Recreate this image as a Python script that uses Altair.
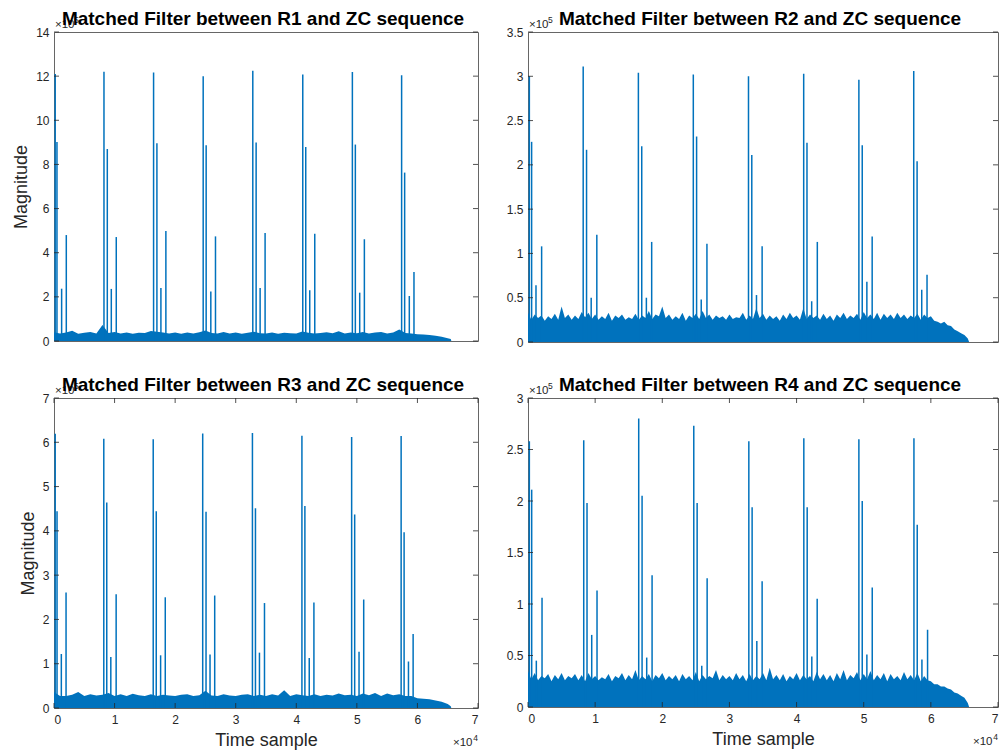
import altair as alt
import pandas as pd

BLUE = "#0072BD"
FONT = "Liberation Sans"
TXT = "#262626"

# ---------------- data (in axis units) ----------------
titles = ["Matched Filter between R1 and ZC sequence",
          "Matched Filter between R2 and ZC sequence",
          "Matched Filter between R3 and ZC sequence",
          "Matched Filter between R4 and ZC sequence"]

x_ticks = [0, 10000, 20000, 30000, 40000, 50000, 60000, 70000]
y_ticks_1 = [0, 2, 4, 6, 8, 10, 12, 14]
y_ticks_2 = [0, 0.5, 1, 1.5, 2, 2.5, 3, 3.5]
y_ticks_3 = [0, 1, 2, 3, 4, 5, 6, 7]
y_ticks_4 = [0, 0.5, 1, 1.5, 2, 2.5, 3]

coarse_samples = list(range(0, 60000, 1000))
coarse_tail = [60000, 61000, 62000, 63000, 64000, 65000, 65500, 65600]
fine_samples = list(range(0, 60000, 500))
fine_tail = [60000, 60500, 61000, 61500, 62000, 62500, 63000, 63500, 64000, 64500, 65000,
             65500, 65700]

floor_1 = [0.40, 0.34, 0.38, 0.46, 0.33, 0.37, 0.41, 0.34, 0.72, 0.36, 0.41, 0.34, 0.39, 0.33, 0.37,
           0.36, 0.45, 0.42, 0.38, 0.34, 0.39, 0.33, 0.38, 0.34, 0.40, 0.48, 0.36, 0.34, 0.41, 0.34,
           0.38, 0.33, 0.37, 0.42, 0.35, 0.34, 0.39, 0.33, 0.37, 0.35, 0.34, 0.43, 0.37, 0.34, 0.36,
           0.40, 0.35, 0.44, 0.34, 0.39, 0.35, 0.41, 0.34, 0.38, 0.41, 0.34, 0.39, 0.52, 0.36, 0.34]
tail_1 = [0.31, 0.29, 0.27, 0.24, 0.19, 0.13, 0.09, 0.0]

floor_2 = [0.33, 0.25, 0.31, 0.27, 0.30, 0.24, 0.29, 0.26, 0.32, 0.25, 0.40, 0.27, 0.31, 0.25, 0.30,
           0.26, 0.34, 0.28, 0.33, 0.26,
           0.31, 0.25, 0.29, 0.26, 0.33, 0.24, 0.30, 0.27, 0.31, 0.25, 0.28, 0.26, 0.32, 0.25, 0.30,
           0.27, 0.35, 0.26, 0.31, 0.29,
           0.40, 0.27, 0.31, 0.25, 0.29, 0.26, 0.33, 0.24, 0.30, 0.27, 0.32, 0.26, 0.35, 0.27, 0.31,
           0.25, 0.30, 0.27, 0.29, 0.25,
           0.31, 0.26, 0.28, 0.27, 0.33, 0.25, 0.30, 0.26, 0.38, 0.27, 0.32, 0.25, 0.30, 0.26, 0.29,
           0.24, 0.31, 0.26, 0.33, 0.27,
           0.30, 0.25, 0.38, 0.26, 0.31, 0.27, 0.30, 0.25, 0.32, 0.26, 0.30, 0.24, 0.31, 0.27, 0.33,
           0.26, 0.30, 0.27, 0.32, 0.25,
           0.34, 0.27, 0.31, 0.26, 0.33, 0.25, 0.32, 0.27, 0.31, 0.26, 0.33, 0.27, 0.31, 0.26, 0.30,
           0.27, 0.32, 0.25, 0.31, 0.27]
tail_2 = [0.29, 0.24, 0.23, 0.21, 0.23, 0.19, 0.18, 0.14, 0.12, 0.10, 0.08, 0.04, 0.0]

floor_3 = [0.36, 0.27, 0.27, 0.30, 0.36, 0.27, 0.31, 0.28, 0.30, 0.34, 0.27, 0.31, 0.27, 0.32, 0.29,
           0.27, 0.31, 0.27, 0.30, 0.28, 0.27, 0.30, 0.31, 0.27, 0.29, 0.39, 0.28, 0.27, 0.31, 0.28,
           0.27, 0.30, 0.31, 0.27, 0.30, 0.27, 0.31, 0.28, 0.40, 0.27, 0.31, 0.29, 0.27, 0.31, 0.27,
           0.30, 0.28, 0.33, 0.29, 0.30, 0.27, 0.33, 0.29, 0.34, 0.27, 0.33, 0.29, 0.31, 0.27, 0.27]
tail_3 = [0.22, 0.21, 0.20, 0.17, 0.14, 0.09, 0.04, 0.0]

floor_4 = [0.35, 0.27, 0.33, 0.26, 0.30, 0.28, 0.32, 0.25, 0.31, 0.27, 0.33, 0.26, 0.30, 0.28, 0.32,
           0.26, 0.31, 0.25, 0.33, 0.27,
           0.30, 0.26, 0.29, 0.27, 0.32, 0.25, 0.30, 0.28, 0.33, 0.26, 0.31, 0.27, 0.36, 0.26, 0.30,
           0.27, 0.32, 0.25, 0.31, 0.28,
           0.33, 0.26, 0.30, 0.27, 0.31, 0.25, 0.32, 0.27, 0.30, 0.26, 0.34, 0.25, 0.31, 0.27, 0.30,
           0.28, 0.36, 0.26, 0.31, 0.27,
           0.30, 0.26, 0.33, 0.27, 0.31, 0.25, 0.32, 0.26, 0.30, 0.27, 0.33, 0.26, 0.38, 0.27, 0.31,
           0.26, 0.32, 0.25, 0.30, 0.27,
           0.33, 0.26, 0.31, 0.27, 0.30, 0.25, 0.34, 0.27, 0.32, 0.26, 0.31, 0.25, 0.33, 0.27, 0.36,
           0.26, 0.31, 0.28, 0.34, 0.26,
           0.32, 0.27, 0.35, 0.26, 0.31, 0.27, 0.33, 0.25, 0.32, 0.27, 0.30, 0.26, 0.34, 0.27, 0.31,
           0.26, 0.33, 0.25, 0.30, 0.26]
tail_4 = [0.25, 0.22, 0.22, 0.20, 0.20, 0.18, 0.17, 0.14, 0.13, 0.11, 0.09, 0.04, 0.0]

peak_pos_1 = [200, 490, 1260, 2030, 8250, 8800, 9460, 10280, 16440, 16990, 17650, 18470,
              24630, 25120, 25890, 26660, 32820, 33370, 34030, 34850, 41070, 41560, 42220, 43050,
              49260, 49750, 50470, 51240, 57390, 57890, 58660, 59430]
peak_val_1 = [12.1, 9.02, 2.37, 4.80, 12.2, 8.70, 2.36, 4.71, 12.16, 8.96, 2.40, 4.98,
              12.0, 8.87, 2.24, 4.74, 12.24, 8.99, 2.40, 4.89, 12.07, 8.79, 2.30, 4.86,
              12.19, 8.90, 2.19, 4.61, 12.04, 7.63, 2.04, 3.13]

peak_pos_2 = [200, 540, 1190, 2030, 8220, 8720, 9410, 10250, 16440, 16940, 17630, 18420,
              24620, 25110, 25800, 26650, 32840, 33330, 34030, 34870, 41060, 41550, 42250, 43090,
              49280, 49780, 50470, 51260, 57450, 57950, 58640, 59430]
peak_val_2 = [3.0, 2.26, 0.64, 1.08, 3.11, 2.17, 0.50, 1.21, 3.04, 2.21, 0.50, 1.13,
              3.02, 2.32, 0.48, 1.11, 3.00, 2.11, 0.53, 1.08, 3.03, 2.25, 0.46, 1.13,
              2.96, 2.22, 0.68, 1.19, 3.06, 2.04, 0.59, 0.76]

peak_pos_3 = [200, 500, 1210, 1990, 8220, 8710, 9380, 10260, 16380, 16880, 17600, 18370,
              24550, 25100, 25760, 26530, 32760, 33260, 33920, 34750, 40930, 41420, 42140, 42910,
              49140, 49640, 50360, 51130, 57310, 57800, 58520, 59290]
peak_val_3 = [6.19, 4.44, 1.22, 2.61, 6.08, 4.64, 1.15, 2.57, 6.07, 4.44, 1.19, 2.50,
              6.20, 4.43, 1.21, 2.54, 6.21, 4.51, 1.25, 2.37, 6.15, 4.56, 1.13, 2.38,
              6.12, 4.37, 1.27, 2.45, 6.14, 3.97, 1.05, 1.67]

peak_pos_4 = [200, 550, 1240, 2090, 8300, 8790, 9490, 10280, 16490, 16990, 17680, 18480,
              24690, 25190, 25880, 26680, 32890, 33380, 34080, 34870, 41080, 41580, 42270, 43070,
              49280, 49780, 50470, 51270, 57480, 57970, 58670, 59510]
peak_val_4 = [2.58, 2.11, 0.45, 1.06, 2.59, 1.98, 0.70, 1.13, 2.80, 2.05, 0.48, 1.28,
              2.73, 1.98, 0.40, 1.25, 2.58, 1.94, 0.64, 1.22, 2.61, 1.94, 0.49, 1.05,
              2.60, 2.00, 0.51, 1.16, 2.61, 1.77, 0.46, 0.75]

exp_base = "×10"
exp_y = "5"
exp_x = "4"


def txt(s, **kw):
    return alt.Chart(pd.DataFrame({"s": [s]})).mark_text(font=FONT, color=TXT, **kw)


def panel(title, y_max, y_ticks, pk_pos, pk_val, samples, floor_vals, tail_s, tail_vals,
          W, H, left_col, bottom, anchor=False, flush_last=False):
    xs = alt.Scale(domain=[0, 70000], nice=False, zero=False)
    ys = alt.Scale(domain=[0, y_max], nice=False)

    ykw = dict(values=y_ticks, labelExpr="toString(datum.value)", ticks=False, tickSize=0,
               domain=False, grid=False, labelFont=FONT, labelFontSize=12, labelColor=TXT,
               labelPadding=5)
    if left_col:
        ykw.update(title="Magnitude", titleFont=FONT, titleFontSize=18, titleFontWeight="normal",
                   titleColor=TXT, titlePadding=5)
    else:
        ykw.update(title=None)
    yaxis = alt.Axis(**ykw)

    if bottom:
        xkw = dict(values=x_ticks, labelExpr="toString(datum.value / 10000)", ticks=False,
                   tickSize=0, domain=False, grid=False, labelFont=FONT, labelFontSize=12,
                   labelColor=TXT, labelPadding=6, title="Time sample", titleFont=FONT,
                   titleFontSize=18, titleFontWeight="normal", titleColor=TXT, titleY=23,
                   titleBaseline="top")
        if flush_last:
            xkw.update(labelFlush=True)
        xaxis = alt.Axis(**xkw)
    else:
        xaxis = None

    floor_df = pd.DataFrame({"t": samples + tail_s, "m": floor_vals + tail_vals})
    peak_df = pd.DataFrame({"t": pk_pos, "m": pk_val})

    area = alt.Chart(floor_df).mark_area(color=BLUE, interpolate="linear", opacity=1).encode(
        x=alt.X("t:Q", scale=xs, axis=xaxis),
        y=alt.Y("m:Q", scale=ys, axis=yaxis),
    )
    peaks = alt.Chart(peak_df).mark_rule(color=BLUE, strokeWidth=1.5).encode(
        x="t:Q", y="m:Q", y2=alt.datum(0)
    )

    ytick_df = pd.DataFrame({"m": y_ticks})
    lt = alt.Chart(ytick_df).mark_rule(color=TXT, strokeWidth=0.8).encode(
        y="m:Q", x=alt.value(0), x2=alt.value(5))
    rt = alt.Chart(ytick_df).mark_rule(color=TXT, strokeWidth=0.8).encode(
        y="m:Q", x=alt.value(W - 5), x2=alt.value(W))
    layers = [area, peaks, lt, rt]

    if bottom:
        xtick_df = pd.DataFrame({"t": x_ticks})
        bt = alt.Chart(xtick_df).mark_rule(color=TXT, strokeWidth=0.8).encode(
            x="t:Q", y=alt.value(H - 5), y2=alt.value(H))
        tt = alt.Chart(xtick_df).mark_rule(color=TXT, strokeWidth=0.8).encode(
            x="t:Q", y=alt.value(0), y2=alt.value(5))
        xe1 = txt(exp_base, align="right", baseline="alphabetic", fontSize=11.5).encode(
            x=alt.value(W - 5.5), y=alt.value(H + 38), text="s:N")
        xe2 = txt(exp_x, align="right", baseline="alphabetic", fontSize=8.5).encode(
            x=alt.value(W), y=alt.value(H + 33), text="s:N")
        layers += [bt, tt, xe1, xe2]

    ye1 = txt(exp_base, align="left", baseline="alphabetic", fontSize=11.5).encode(
        x=alt.value(1), y=alt.value(-4), text="s:N")
    ye2 = txt(exp_y, align="left", baseline="alphabetic", fontSize=8.5).encode(
        x=alt.value(20), y=alt.value(-9.5), text="s:N")
    tl = alt.Chart(pd.DataFrame({"s": [title]})).mark_text(
        align="center", baseline="alphabetic", font=FONT, fontSize=19, fontWeight="bold",
        color="#000000"
    ).encode(x=alt.value(W / 2 - 3), y=alt.value(-7), text="s:N")
    layers += [ye1, ye2, tl]

    if anchor:
        an = alt.Chart(pd.DataFrame({"s": [""]})).mark_rule(opacity=0, strokeWidth=0).encode(
            x=alt.value(-53), x2=alt.value(-52), y=alt.value(-31), y2=alt.value(-30))
        layers.append(an)

    return alt.layer(*layers).properties(width=W, height=H)


p1 = panel(titles[0], 14, y_ticks_1, peak_pos_1, peak_val_1, coarse_samples, floor_1,
           coarse_tail, tail_1, 424, 309, True, False, anchor=True)
p2 = panel(titles[1], 3.5, y_ticks_2, peak_pos_2, peak_val_2, fine_samples, floor_2,
           fine_tail, tail_2, 470, 310, False, False)
p3 = panel(titles[2], 7, y_ticks_3, peak_pos_3, peak_val_3, coarse_samples, floor_3,
           coarse_tail, tail_3, 424, 310, True, True)
p4 = panel(titles[3], 3, y_ticks_4, peak_pos_4, peak_val_4, fine_samples, floor_4,
           fine_tail, tail_4, 470, 309, False, True, flush_last=True)

chart = alt.concat(p1, p2, p3, p4, columns=2, bounds="flush",
                   spacing={"row": 56, "column": 50}).properties(
    padding=0, background="white"
).configure_view(stroke="#666666", strokeWidth=1)

chart.save("out.html", embed_options={"renderer": "svg", "actions": False})
